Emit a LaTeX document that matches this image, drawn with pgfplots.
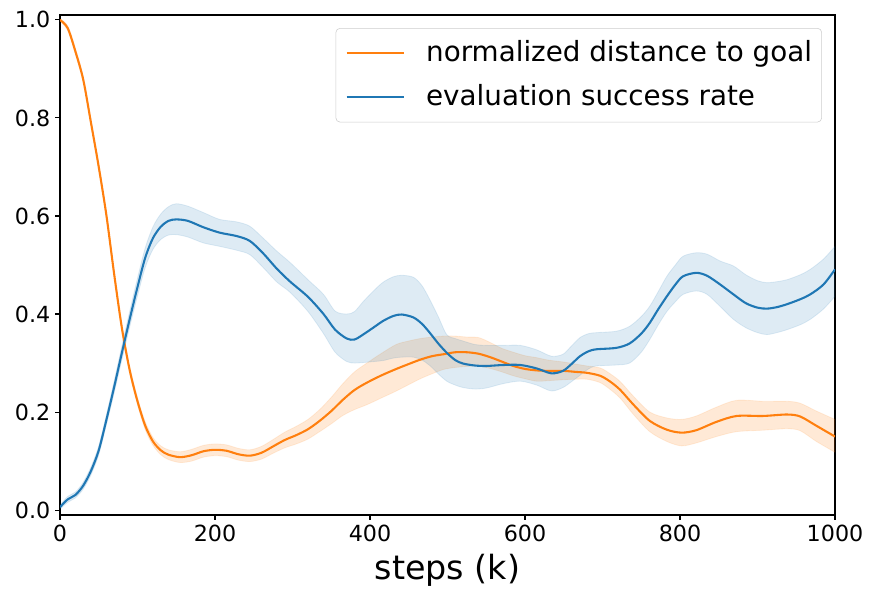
\documentclass[border=0pt]{standalone}
\usepackage{pgfplots}
\pgfplotsset{compat=1.18}
\usepgfplotslibrary{fillbetween}
\usepackage{pgfplotstable}
\usepackage{fontspec}
\setmainfont{DejaVu Sans}
\definecolor{mplorange}{HTML}{FF7F0E}
\definecolor{mplblue}{HTML}{1F77B4}

\pgfplotstableread{
x m lo hi
0 1.000 0.998 1.002
10 0.983 0.978 0.988
20 0.935 0.929 0.941
30 0.878 0.872 0.884
40 0.790 0.784 0.796
50 0.700 0.694 0.706
60 0.600 0.594 0.606
70 0.480 0.474 0.486
80 0.370 0.363 0.377
90 0.285 0.278 0.292
100 0.222 0.215 0.229
110 0.172 0.164 0.180
120 0.140 0.132 0.148
130 0.122 0.113 0.131
140 0.113 0.103 0.123
155 0.108 0.097 0.119
170 0.112 0.100 0.124
185 0.120 0.108 0.132
200 0.123 0.111 0.135
215 0.121 0.109 0.133
230 0.114 0.102 0.126
245 0.111 0.099 0.123
260 0.117 0.104 0.130
275 0.130 0.116 0.144
290 0.143 0.127 0.159
305 0.153 0.135 0.171
320 0.165 0.145 0.185
335 0.182 0.160 0.205
350 0.202 0.176 0.230
365 0.225 0.193 0.258
380 0.245 0.205 0.282
396 0.260 0.215 0.300
415 0.275 0.229 0.320
434 0.288 0.243 0.338
450 0.298 0.256 0.345
465 0.307 0.268 0.350
480 0.314 0.278 0.353
495 0.318 0.287 0.355
510 0.322 0.291 0.355
525 0.322 0.293 0.353
540 0.319 0.294 0.352
555 0.312 0.289 0.342
570 0.303 0.282 0.330
585 0.294 0.274 0.322
600 0.288 0.268 0.315
615 0.285 0.263 0.311
630 0.284 0.264 0.306
650 0.284 0.266 0.302
665 0.282 0.267 0.298
680 0.280 0.267 0.294
697 0.274 0.260 0.290
710 0.262 0.246 0.278
723 0.245 0.228 0.262
740 0.215 0.195 0.232
761 0.182 0.160 0.200
783 0.164 0.140 0.188
802 0.158 0.131 0.185
821 0.163 0.137 0.192
847 0.180 0.150 0.210
873 0.192 0.160 0.224
907 0.192 0.163 0.222
938 0.195 0.166 0.222
955 0.191 0.162 0.218
976 0.172 0.140 0.202
1000 0.150 0.118 0.185
}\orangedata

\pgfplotstableread{
x m lo hi
0 0.006 0.002 0.010
10 0.022 0.016 0.028
20 0.031 0.025 0.037
30 0.050 0.043 0.057
40 0.080 0.072 0.088
50 0.122 0.113 0.131
60 0.185 0.175 0.195
70 0.252 0.240 0.264
80 0.322 0.308 0.336
90 0.390 0.374 0.406
100 0.455 0.437 0.473
110 0.515 0.495 0.535
120 0.555 0.532 0.578
130 0.578 0.552 0.604
140 0.590 0.561 0.619
150 0.593 0.562 0.625
165 0.590 0.557 0.620
185 0.577 0.545 0.607
206 0.566 0.538 0.593
228 0.559 0.530 0.588
245 0.549 0.521 0.579
262 0.524 0.495 0.555
280 0.492 0.465 0.528
297 0.466 0.444 0.505
320 0.435 0.405 0.470
340 0.400 0.360 0.440
355 0.368 0.322 0.406
370 0.350 0.303 0.400
380 0.348 0.300 0.405
391 0.358 0.301 0.425
405 0.373 0.303 0.448
417 0.386 0.305 0.465
430 0.396 0.310 0.476
441 0.399 0.312 0.479
456 0.393 0.312 0.475
467 0.380 0.306 0.458
477 0.362 0.295 0.430
488 0.340 0.278 0.395
499 0.321 0.263 0.358
510 0.306 0.255 0.350
520 0.299 0.250 0.345
535 0.295 0.247 0.338
550 0.294 0.249 0.336
572 0.296 0.258 0.336
594 0.296 0.263 0.336
615 0.289 0.255 0.327
634 0.279 0.243 0.314
649 0.284 0.250 0.318
660 0.298 0.262 0.335
671 0.314 0.275 0.352
682 0.324 0.288 0.360
692 0.328 0.294 0.362
718 0.331 0.296 0.365
735 0.340 0.300 0.375
750 0.360 0.322 0.395
761 0.382 0.348 0.416
772 0.410 0.378 0.446
783 0.436 0.405 0.477
794 0.460 0.425 0.500
804 0.477 0.440 0.518
821 0.484 0.447 0.525
835 0.478 0.440 0.522
852 0.460 0.415 0.508
869 0.440 0.389 0.498
885 0.422 0.372 0.480
900 0.413 0.362 0.468
912 0.411 0.358 0.464
925 0.414 0.362 0.466
938 0.420 0.368 0.470
955 0.430 0.378 0.480
968 0.440 0.389 0.491
985 0.460 0.410 0.512
1000 0.491 0.436 0.538
}\bluedata

\begin{document}
\begin{tikzpicture}
\begin{axis}[
  at={(0,0)}, anchor=south west,
  scale only axis, width=558pt, height=360pt,
  xmin=0, xmax=1000, ymin=-0.01, ymax=1.01,
  xtick={0,200,400,600,800,1000},
  ytick={0,0.2,0.4,0.6,0.8,1.0},
  tick pos=left, tick align=outside,
  major tick length=3.5pt,
  every tick/.style={black, line width=0.8pt},
  axis line style={line width=0.8pt},
  ticklabel style={font=\fontsize{16}{19}\selectfont},
  /pgf/number format/assume math mode=true,
  xticklabel style={/pgf/number format/1000 sep={}},
  yticklabel style={/pgf/number format/.cd, fixed, fixed zerofill, precision=1},
  xlabel={steps (k)},
  xlabel style={font=\fontsize{24}{29}\selectfont, yshift=-2pt},
  legend cell align=left,
  legend image code/.code={\draw[#1] (0pt,0pt) -- (41pt,0pt);},
  legend style={at={(1,1)}, anchor=north east, xshift=-9.4pt, yshift=-9.4pt,
    draw=black!20, rounded corners=3pt, fill=white, fill opacity=0.8, text opacity=1,
    font=\fontsize{20}{24}\selectfont, inner xsep=7pt, inner ysep=7pt,
    row sep=9.5pt, nodes={inner sep=0pt, text height=17pt, text depth=5pt},
    /tikz/every odd column/.append style={column sep=15.5pt}},
]
% orange band
\addplot[draw=none, smooth, name path=olo, forget plot] table[x=x, y=lo] {\orangedata};
\addplot[draw=none, smooth, name path=ohi, forget plot] table[x=x, y=hi] {\orangedata};
\addplot[fill=mplorange, fill opacity=0.17, draw=mplorange, draw opacity=0.12, line width=0.6pt, forget plot] fill between[of=olo and ohi];
% blue band
\addplot[draw=none, smooth, name path=blo, forget plot] table[x=x, y=lo] {\bluedata};
\addplot[draw=none, smooth, name path=bhi, forget plot] table[x=x, y=hi] {\bluedata};
\addplot[fill=mplblue, fill opacity=0.15, draw=mplblue, draw opacity=0.12, line width=0.6pt, forget plot] fill between[of=blo and bhi];
% means
\addplot[mplorange, line width=1.5pt, smooth] table[x=x, y=m] {\orangedata};
\addlegendentry{normalized distance to goal}
\addplot[mplblue, line width=1.5pt, smooth] table[x=x, y=m] {\bluedata};
\addlegendentry{evaluation success rate}
\end{axis}
\pgfresetboundingbox
\useasboundingbox (-43.2pt,-59.76pt) rectangle (587.52pt,370.8pt);
\end{tikzpicture}
\end{document}
